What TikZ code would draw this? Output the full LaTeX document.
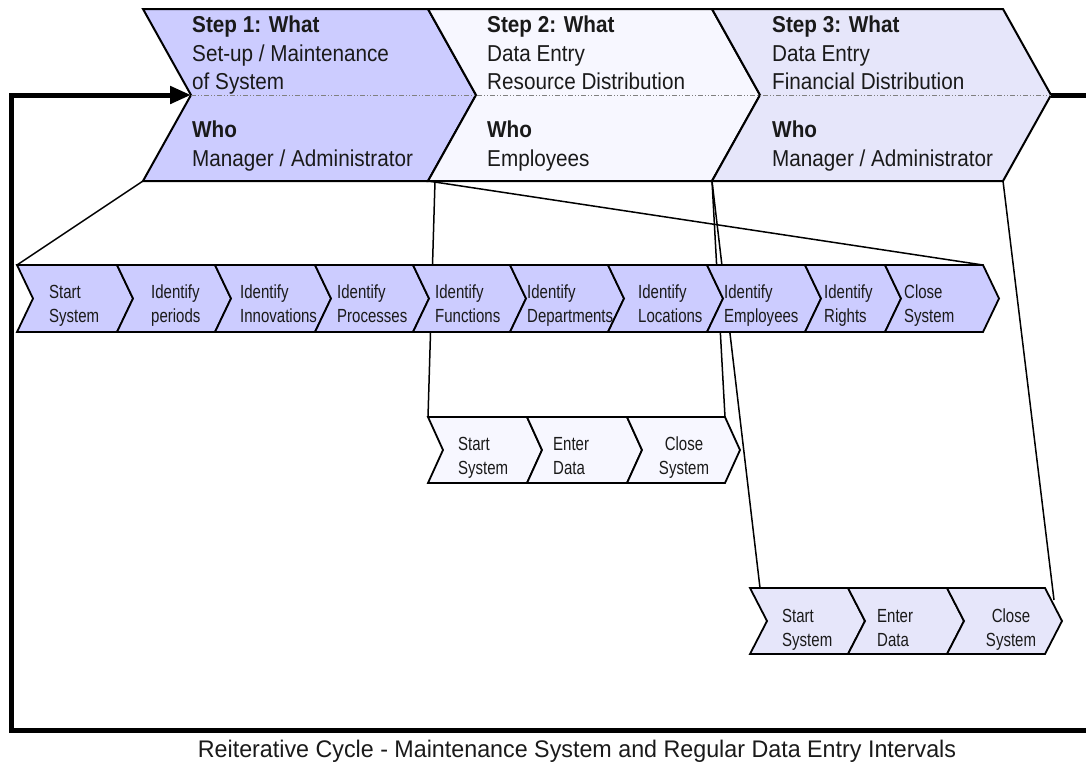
\documentclass[tikz,border=0pt]{standalone}
\usepackage{fontspec}
\setmainfont{Liberation Sans}
\newfontfamily\stepfont{Liberation Sans}[FakeStretch=0.9]
\newfontfamily\taskfont{Liberation Sans}[FakeStretch=0.79]
\newfontfamily\capfont{Liberation Sans}[FakeStretch=0.97]
\usetikzlibrary{arrows.meta}

\definecolor{periwinkle}{HTML}{CCCCFF}
\definecolor{paleblue}{HTML}{F7F7FF}
\definecolor{lavenderfill}{HTML}{E6E6FA}
\definecolor{inkgray}{HTML}{1A1A1A}

\tikzset{
  stepchev/.style={draw=black, line width=2pt, line join=miter},
  taskchev/.style={draw=black, line width=1.8pt, line join=miter},
  steptext/.style={anchor=north west, inner sep=0pt, align=left, text=inkgray,
    font=\stepfont\fontsize{23}{28.5}\selectfont},
  tasktext/.style={anchor=north west, inner sep=0pt, align=left, text=inkgray,
    font=\taskfont\fontsize{19}{24}\selectfont},
  taskcentre/.style={tasktext, anchor=north, align=center},
  zoomline/.style={draw=black, line width=1.5pt},
  cycleline/.style={draw=black, line width=5pt, line join=miter,
    -{Triangle[length=21pt,width=17pt]}},
  divider/.style={draw=gray, line width=0.8pt,
    dash pattern=on 5pt off 2pt on 1pt off 2pt on 1pt off 2pt},
}

% chevron: #1 name, #2 left x, #3 right x, #4 top y, #5 bottom y, #6 point depth, #7 style
\newcommand{\chevronpath}[7]{%
  \path[#7] (#2,#4) coordinate (#1-tl) -- (#3,#4) coordinate (#1-tr)
    -- ({#3+#6},{(#4+#5)/2}) coordinate (#1-tip)
    -- (#3,#5) coordinate (#1-br) -- (#2,#5) coordinate (#1-bl)
    -- ({#2+#6},{(#4+#5)/2}) coordinate (#1-notch) -- cycle;}

\begin{document}
\begin{tikzpicture}[x=1pt, y=-1pt]
\useasboundingbox (0,0) rectangle (1086,766);

% the three process steps
\chevronpath{s1}{143}{428}{9}{181}{48}{stepchev, fill=periwinkle}
\chevronpath{s2}{428}{712}{9}{181}{48}{stepchev, fill=paleblue}
\chevronpath{s3}{712}{1003}{9}{181}{48}{stepchev, fill=lavenderfill}
\draw[divider] (s1-notch) -- (s3-tip);

% task rows (coordinates needed by the connectors are defined here first)
\coordinate (t1-tl) at (17,265);
\coordinate (t10-tr) at (983,265);
\coordinate (u1-tl) at (428,417);
\coordinate (u3-tr) at (725,417);
\coordinate (v1-hook) at (760,588);
\coordinate (v3-hook) at (1054,600);

% zoom lines from each step to its task row
\draw[zoomline] (s1-bl) -- (t1-tl);
\draw[zoomline] (s1-br) -- (t10-tr);
\draw[zoomline] ([xshift=7pt]s2-bl) -- (u1-tl);
\draw[zoomline] (s2-br) -- (u3-tr);
\draw[zoomline] (s3-bl) -- (v1-hook);
\draw[zoomline] (s3-br) -- (v3-hook);

% row 1: set-up tasks
\chevronpath{t1}{17}{117}{265}{332}{16}{taskchev, fill=periwinkle}
\chevronpath{t2}{117}{215}{265}{332}{16}{taskchev, fill=periwinkle}
\chevronpath{t3}{215}{315}{265}{332}{16}{taskchev, fill=periwinkle}
\chevronpath{t4}{315}{413}{265}{332}{16}{taskchev, fill=periwinkle}
\chevronpath{t5}{413}{510}{265}{332}{16}{taskchev, fill=periwinkle}
\chevronpath{t6}{510}{608}{265}{332}{16}{taskchev, fill=periwinkle}
\chevronpath{t7}{608}{707}{265}{332}{16}{taskchev, fill=periwinkle}
\chevronpath{t8}{707}{805}{265}{332}{16}{taskchev, fill=periwinkle}
\chevronpath{t9}{805}{885}{265}{332}{16}{taskchev, fill=periwinkle}
\chevronpath{t10}{885}{983}{265}{332}{16}{taskchev, fill=periwinkle}

% row 2: resource distribution entry
\chevronpath{u1}{428}{527}{417}{483}{15}{taskchev, fill=paleblue}
\chevronpath{u2}{527}{627}{417}{483}{15}{taskchev, fill=paleblue}
\chevronpath{u3}{627}{725}{417}{483}{15}{taskchev, fill=paleblue}

% row 3: financial distribution entry
\chevronpath{v1}{750}{848}{588}{654}{17}{taskchev, fill=lavenderfill}
\chevronpath{v2}{848}{947}{588}{654}{17}{taskchev, fill=lavenderfill}
\chevronpath{v3}{947}{1045}{588}{654}{17}{taskchev, fill=lavenderfill}

% reiterative loop back to step 1
\draw[cycleline] (s3-tip) -- (1110,95) -- (1110,730) -- (11,730) -- (11,95) -- (s1-notch);

% step texts
\node[steptext] (what1) at (192,16) {\textbf{Step 1: What}\\Set-up / Maintenance\\of System};
\node[steptext] (who1) at (192,121) {\textbf{Who}\\Manager / Administrator};
\node[steptext] (what2) at (487,16) {\textbf{Step 2: What}\\Data Entry\\Resource Distribution};
\node[steptext] (who2) at (487,121) {\textbf{Who}\\Employees};
\node[steptext] (what3) at (772,16) {\textbf{Step 3: What}\\Data Entry\\Financial Distribution};
\node[steptext] (who3) at (772,121) {\textbf{Who}\\Manager / Administrator};

% task texts, row 1
\node[tasktext] (t1-label) at (49,285) {Start\\System};
\node[tasktext] (t2-label) at (151,285) {Identify\\periods};
\node[tasktext] (t3-label) at (240,285) {Identify\\Innovations};
\node[tasktext] (t4-label) at (337,285) {Identify\\Processes};
\node[tasktext] (t5-label) at (435,285) {Identify\\Functions};
\node[tasktext] (t6-label) at (527,285) {Identify\\Departments};
\node[tasktext] (t7-label) at (638,285) {Identify\\Locations};
\node[tasktext] (t8-label) at (724,285) {Identify\\Employees};
\node[tasktext] (t9-label) at (824,285) {Identify\\Rights};
\node[tasktext] (t10-label) at (904,285) {Close\\System};

% task texts, row 2
\node[tasktext] (u1-label) at (458,437) {Start\\System};
\node[tasktext] (u2-label) at (553,437) {Enter\\Data};
\node[taskcentre] (u3-label) at (684,437) {Close\\System};

% task texts, row 3
\node[tasktext] (v1-label) at (782,609) {Start\\System};
\node[tasktext] (v2-label) at (877,609) {Enter\\Data};
\node[taskcentre] (v3-label) at (1011,609) {Close\\System};

% caption
\node[anchor=base, inner sep=0pt, text=inkgray, font=\capfont\fontsize{24}{28}\selectfont]
  (caption) at (577,757) {Reiterative Cycle - Maintenance System and Regular Data Entry Intervals};
\end{tikzpicture}
\end{document}
